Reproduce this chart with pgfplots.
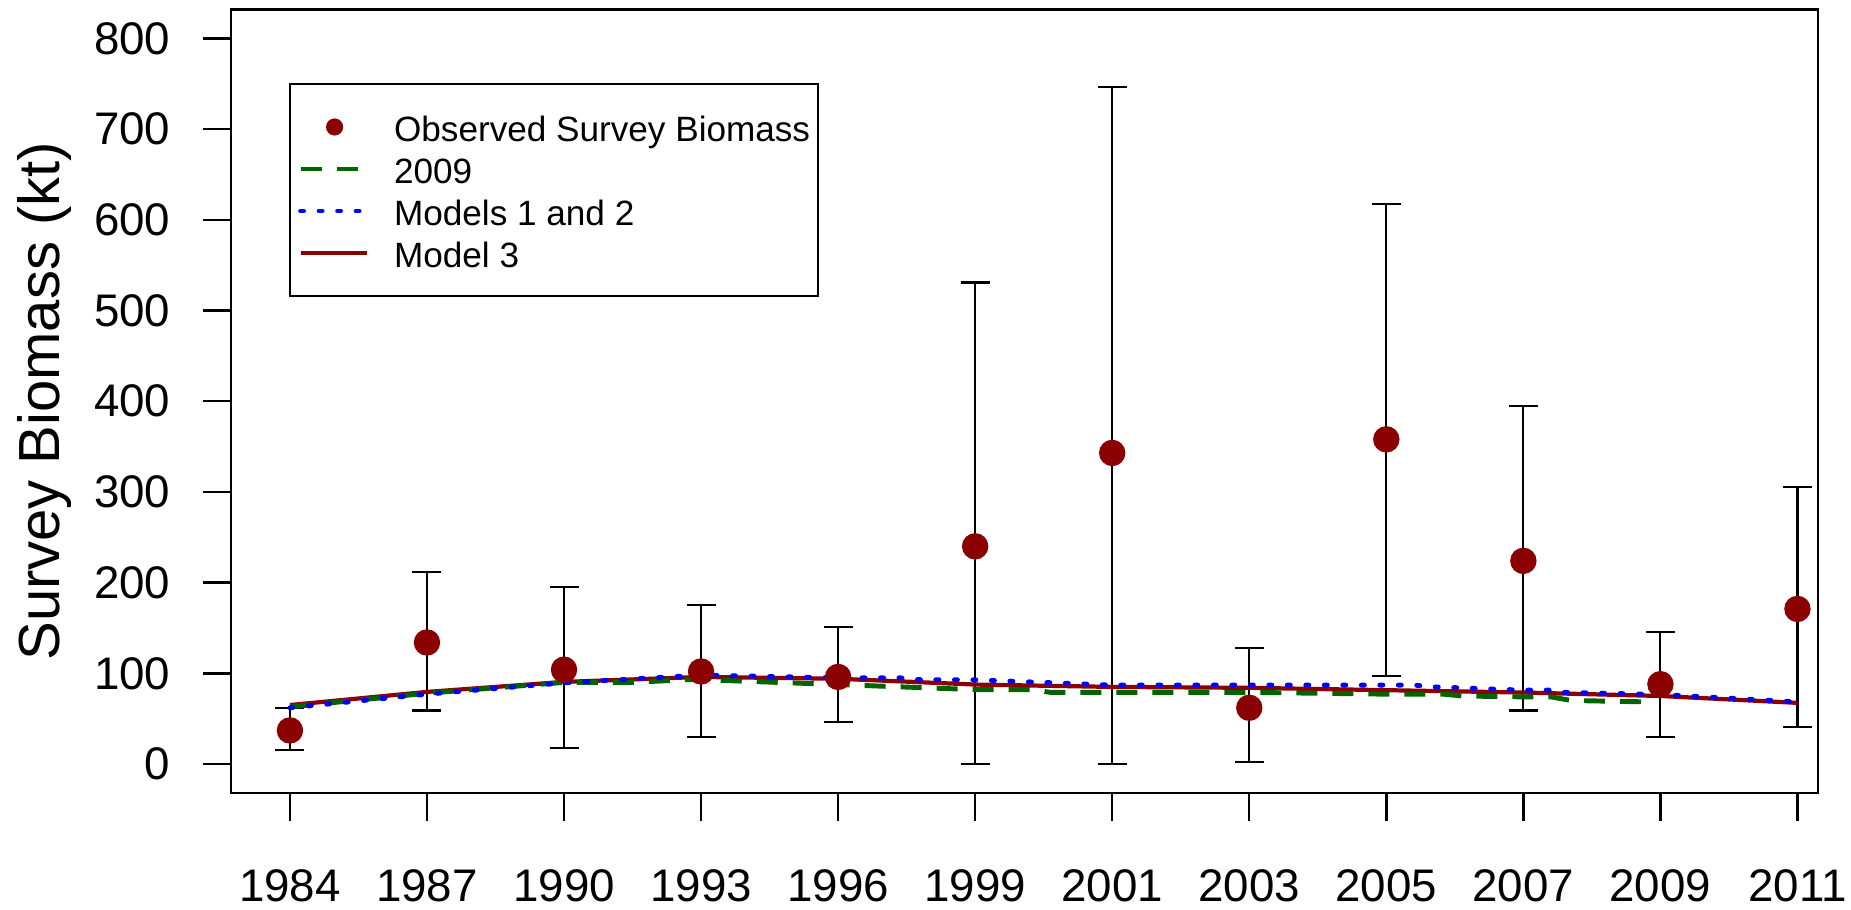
\documentclass[border=0pt]{standalone}
\usepackage{pgfplots}
\pgfplotsset{compat=1.18}
\usepackage{pgfplotstable}
\usepackage{fontspec}
\setmainfont{Liberation Sans}
\definecolor{obsred}{RGB}{139,0,0}
\definecolor{oldgreen}{RGB}{0,100,0}
\definecolor{modblue}{RGB}{0,0,255}

\pgfplotsset{
    linelegend/.style={legend image code/.code={\draw[##1] (0cm,0cm) -- (0.66cm,0cm);}},
    dotlegend/.style={legend image code/.code={\draw[##1, mark size=0.075cm] plot coordinates {(0.34cm,0cm)};}},
}

% survey index: x = position of survey year, y = biomass, ep/em = upper/lower CI distance
\pgfplotstableread{
x y ep em
1 37 25 22
2 134 78 75
3 104 91 86
4 102 73 72
5 96 55 50
6 240 291 240
7 343 404 343
8 62 66 60
9 358 260 261
10 224 171 165
11 88 58 58
12 171 134 130
}\survey

\pgfplotstableread{
x y
1 65
2 79.5
3 90.5
4 96
5 94
6 87.6
7 85
8 84
9 81.4
10 78.8
11 75
12 67.4
}\modelthree

\pgfplotstableread{
x y
1 62
2 77
3 89.5
4 98
5 95
5.45 95
5.55 93
6 92.8
7 87
8 87
9 87
9.2 87
9.35 85
10 81.4
10.2 81.4
10.3 79
11 76.6
12 68.5
}\modelsonetwo

\pgfplotstableread{
x y
1 63
2 78
3 90
3.5 90
3.9 93
4 93
5 87.6
6 82
6.4 82
6.55 79
7 79
8 79
9 77
9.42 77
9.55 75
10 74
10.2 74
10.35 70
10.9 68.5
}\assess

\begin{document}
\begin{tikzpicture}
\begin{axis}[
    scale only axis,
    width=15.87cm, height=7.835cm,
    xmin=0.57, xmax=12.15,
    ymin=-32, ymax=832,
    axis line style={line width=0.7pt},
    tick pos=left, tick align=outside,
    major tick length=0.28cm,
    tick style={black, line width=0.7pt},
    xtick={1,...,12},
    xticklabels={1984,1987,1990,1993,1996,1999,2001,2003,2005,2007,2009,2011},
    ytick={0,100,...,800},
    /pgf/number format/assume math mode=true,
    ticklabel style={font=\fontsize{13}{15}\selectfont},
    xticklabel style={inner sep=0pt, anchor=north},
    xticklabel shift=0.48cm,
    yticklabel style={inner sep=0pt, anchor=east},
    yticklabel shift=0.32cm,
    ylabel={Survey Biomass (kt)},
    every axis y label/.style={at={(axis description cs:-0.1172,0.5)}, rotate=90, anchor=center,
        font=\fontsize{16.5}{19}\selectfont},
    legend cell align=left,
    legend style={at={(axis description cs:0.0366,0.9063)}, anchor=north west,
        draw=black, line width=0.6pt, inner xsep=0.08cm, inner ysep=0.22cm,
        column sep=0.25cm, font=\fontsize{10}{12}\selectfont,
        nodes={inner sep=0pt, text height=0.36cm, text depth=0.06cm}},
]
% observed survey biomass with intervals
\addplot[forget plot, only marks, mark=*, mark size=0.125cm, obsred,
    error bars/.cd, y dir=both, y explicit,
    error bar style={black, line width=0.6pt},
    error mark options={rotate=90, black, mark size=0.145cm, line width=0.6pt}]
    table[x=x, y=y, y error plus=ep, y error minus=em] {\survey};
% model fits
\addplot[forget plot, obsred, line width=1.2pt] table {\modelthree};
\addplot[forget plot, oldgreen, line width=1.4pt, dash pattern=on 0.21cm off 0.15cm] table {\assess};
\addplot[forget plot, modblue, line width=1.4pt, line cap=round, dash pattern=on 0.03cm off 0.155cm] table {\modelsonetwo};

\addlegendimage{only marks, mark=*, obsred, dotlegend}
\addlegendentry{Observed Survey Biomass}
\addlegendimage{oldgreen, line width=1.4pt, dash pattern=on 0.21cm off 0.15cm, linelegend}
\addlegendentry{2009}
\addlegendimage{modblue, line width=1.4pt, line cap=round, dash pattern=on 0.03cm off 0.155cm, linelegend}
\addlegendentry{Models 1 and 2}
\addlegendimage{obsred, line width=1.4pt, linelegend}
\addlegendentry{Model 3}
\end{axis}
\pgfresetboundingbox
\path[use as bounding box] (-2.31cm,-1.16cm) rectangle (16.20cm,7.93cm);
\end{tikzpicture}
\end{document}
